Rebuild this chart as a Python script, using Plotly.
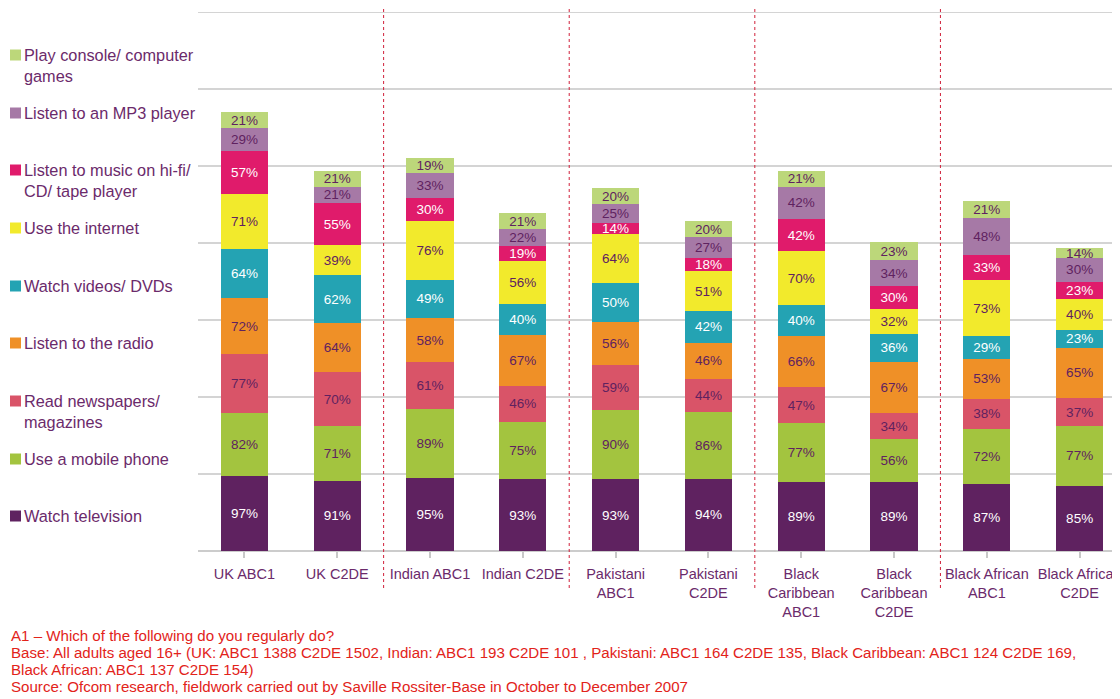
import plotly.graph_objects as go

categories = ["UK ABC1", "UK C2DE", "Indian ABC1", "Indian C2DE", "Pakistani<br>ABC1",
              "Pakistani<br>C2DE", "Black<br>Caribbean<br>ABC1", "Black<br>Caribbean<br>C2DE",
              "Black African<br>ABC1", "Black African<br>C2DE"]

watch_tv = [97, 91, 95, 93, 93, 94, 89, 89, 87, 85]
mobile = [82, 71, 89, 75, 90, 86, 77, 56, 72, 77]
newspapers = [77, 70, 61, 46, 59, 44, 47, 34, 38, 37]
radio = [72, 64, 58, 67, 56, 46, 66, 67, 53, 65]
videos = [64, 62, 49, 40, 50, 42, 40, 36, 29, 23]
internet = [71, 39, 76, 56, 64, 51, 70, 32, 73, 40]
hifi = [57, 55, 30, 19, 14, 18, 42, 30, 33, 23]
mp3 = [29, 21, 33, 22, 25, 27, 42, 34, 48, 30]
console = [21, 21, 19, 21, 20, 20, 21, 23, 21, 14]

series_names = ["Watch television", "Use a mobile phone", "Read newspapers/<br>magazines",
                "Listen to the radio", "Watch videos/ DVDs", "Use the internet",
                "Listen to music on hi-fi/<br>CD/ tape player", "Listen to an MP3 player",
                "Play console/ computer<br>games"]
series_values = [watch_tv, mobile, newspapers, radio, videos, internet, hifi, mp3, console]
colors = ["#5f2260", "#a3c43f", "#d95468", "#ef9027", "#24a3b3", "#f2ea2c",
          "#e01b6b", "#a679a6", "#bcd77a"]
text_colors = ["white", "#5f2260", "#5f2260", "#5f2260", "white", "#5f2260",
               "white", "#5f2260", "#5f2260"]

footnotes = [
    "A1 \u2013 Which of the following do you regularly do?",
    "Base: All adults aged 16+ (UK: ABC1 1388 C2DE 1502, Indian: ABC1 193 C2DE 101 , Pakistani: ABC1 164 C2DE 135, Black Caribbean: ABC1 124 C2DE 169,",
    "Black African: ABC1 137 C2DE 154)",
    "Source: Ofcom research, fieldwork carried out by Saville Rossiter-Base in October to December 2007",
]

FONT = "Liberation Sans, Arial, sans-serif"
OFF = 8  # page body margin offset
W, H = 1120 - OFF, 699 - OFF
L, T = 198 - OFF, 12 - OFF
BASE = 551 - OFF
R, B = 0, H - BASE
PW, PH = W - L - R, H - T - B

def px_x(px):
    return (px - OFF - L) / PW

def px_y(py):
    return (BASE - (py - OFF)) / PH

fig = go.Figure()
x_idx = list(range(len(categories)))
for name, vals, col, tcol in zip(series_names, series_values, colors, text_colors):
    fig.add_trace(go.Bar(
        x=x_idx, y=vals, name=name, marker=dict(color=col, line=dict(width=0)),
        width=0.51, text=[f"{v}%" for v in vals], textposition="inside",
        insidetextanchor="middle", textangle=0,
        textfont=dict(color=tcol, size=13.5, family=FONT),
        showlegend=False, cliponaxis=False,
    ))

# legend (custom, left side)
legend_first_line_y = [516, 459, 401, 343, 286, 228, 170, 113, 55]
shapes = []
annotations = []
for name, col, ly in zip(series_names, colors, legend_first_line_y):
    shapes.append(dict(type="rect", xref="paper", yref="paper",
                       x0=px_x(10), x1=px_x(21), y0=px_y(ly + 5.5), y1=px_y(ly - 5.5),
                       fillcolor=col, line=dict(width=0)))
    annotations.append(dict(text=name, xref="paper", yref="paper", x=px_x(22),
                            y=px_y(ly - 11), xanchor="left", yanchor="top", align="left",
                            showarrow=False, font=dict(size=16.3, color="#6b2a6b", family=FONT)))

# group separators
for b in [1.5, 3.5, 5.5, 7.5]:
    shapes.append(dict(type="line", xref="x", yref="paper", x0=b, x1=b,
                       y0=px_y(588), y1=px_y(0),
                       line=dict(color="#d0203a", width=1, dash="dot")))

# top gridline
shapes.append(dict(type="line", xref="paper", yref="y", x0=0, x1=1, y0=700, y1=700,
                   line=dict(color="#d4d4d4", width=2)))

for i, fn in enumerate(footnotes):
    annotations.append(dict(text=fn, xref="paper", yref="paper", x=px_x(9),
                            y=px_y(635 + i * 17.3), xanchor="left", yanchor="middle",
                            showarrow=False, font=dict(size=15.1, color="#e2231a", family=FONT)))

fig.update_layout(
    width=W, height=H, barmode="stack", bargap=0.49,
    margin=dict(l=L, r=R, t=T, b=B, pad=0, autoexpand=False),
    plot_bgcolor="white", paper_bgcolor="white",
    font=dict(family=FONT),
    xaxis=dict(range=[-0.5, 9.435], tickmode="array", tickvals=x_idx, ticktext=categories,
               ticks="outside", tickson="boundaries", ticklen=6, tickcolor="#c8c8c8",
               tickwidth=2, showline=False, showgrid=False, automargin=False,
               ticklabeloverflow="allow", ticklabelstandoff=4,
               tickfont=dict(size=14.5, color="#6b2a6b", family=FONT)),
    yaxis=dict(range=[0, 700], dtick=100, showticklabels=False, showgrid=True,
               gridcolor="#d4d4d4", gridwidth=2, zeroline=True, zerolinecolor="#cccccc",
               zerolinewidth=2, fixedrange=True, automargin=False),
    shapes=shapes, annotations=annotations,
    uniformtext=dict(minsize=13.5, mode="show"),
)

fig.write_html("out.html")
